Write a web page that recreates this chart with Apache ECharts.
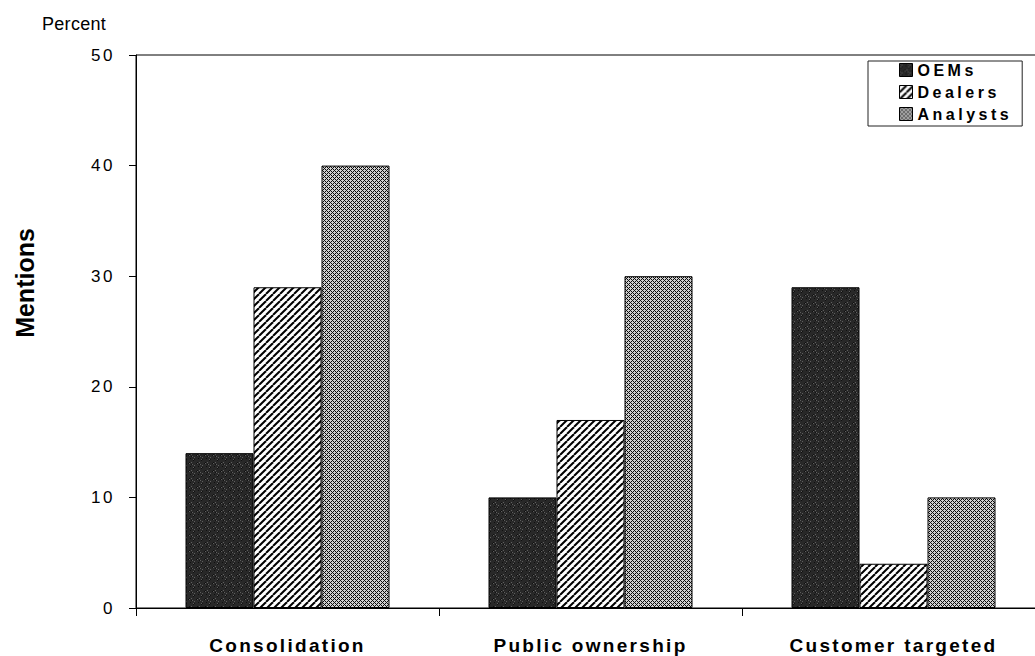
<!DOCTYPE html>
<html>
<head>
<meta charset="utf-8">
<script src="https://cdn.jsdelivr.net/npm/echarts@6/dist/echarts.min.js"></script>
<style>
html,body{margin:0;padding:0;background:#fff;}
#chart{width:1035px;height:656px;}
</style>
</head>
<body>
<div id="chart"></div>
<script>
// ---- data ----
const categories = ['Consolidation', 'Public ownership', 'Customer targeted'];
const seriesNames = ['OEMs', 'Dealers', 'Analysts'];
const oemsValues = [14, 10, 29];
const dealersValues = [29, 17, 4];
const analystsValues = [40, 30, 10];
const yMin = 0, yMax = 50, yInterval = 10;
const yAxisTitle = 'Percent';
const sideTitle = 'Mentions';

// ---- fill patterns ----
function oemPattern() {
  const c = document.createElement('canvas'); c.width = 8; c.height = 8;
  const g = c.getContext('2d');
  g.fillStyle = '#282828'; g.fillRect(0, 0, 8, 8);
  for (let y = 0; y < 8; y++) for (let x = 0; x < 8; x++) {
    const h = (x * 7 + y * 13 + x * y * 3) % 11;
    if (h === 0) { g.fillStyle = '#5e5e5e'; g.fillRect(x, y, 1, 1); }
    else if (h === 5) { g.fillStyle = '#101010'; g.fillRect(x, y, 1, 1); }
  }
  return c;
}
function dealerPattern() {
  const s = 7;
  const c = document.createElement('canvas'); c.width = s; c.height = s;
  const g = c.getContext('2d');
  g.fillStyle = '#fff'; g.fillRect(0, 0, s, s);
  g.strokeStyle = '#000'; g.lineWidth = 2.0;
  for (const k of [-s, 0, s]) {
    g.beginPath(); g.moveTo(k, s); g.lineTo(k + s, 0); g.stroke();
  }
  return c;
}
function analystPattern() {
  const c = document.createElement('canvas'); c.width = 4; c.height = 4;
  const g = c.getContext('2d');
  g.fillStyle = '#d0d0d0'; g.fillRect(0, 0, 4, 4);
  g.fillStyle = '#0c0c0c';
  for (let y = 0; y < 4; y++) for (let x = 0; x < 4; x++) {
    if ((x + y) % 4 === 0 || (x - y + 4) % 4 === 0) g.fillRect(x, y, 1, 1);
  }
  return c;
}
function pat(c) { return { image: c, repeat: 'repeat', imageWidth: c.width, imageHeight: c.height }; }
const fills = [pat(oemPattern()), pat(dealerPattern()), pat(analystPattern())];
const valueSets = [oemsValues, dealersValues, analystsValues];

const chart = echarts.init(document.getElementById('chart'), null, { renderer: 'svg' });
const FONT = '"Liberation Sans", Arial, sans-serif';

chart.setOption({
  animation: false,
  backgroundColor: '#fff',
  grid: { left: 136, top: 55, right: -10, bottom: 48, outerBoundsMode: 'none', containLabel: false,
          show: true, borderColor: '#000', borderWidth: 1, backgroundColor: 'transparent' },
  legend: {
    orient: 'vertical', left: 868, top: 61,
    data: seriesNames,
    icon: 'rect', itemWidth: 13, itemHeight: 13, itemGap: 6,
    padding: [1, 38, 4, 31],
    backgroundColor: '#fff', borderColor: '#222', borderWidth: 1,
    textStyle: { fontFamily: FONT, fontSize: 16, fontWeight: 'bold', color: '#000' },
    itemStyle: { borderColor: '#000', borderWidth: 1 }
  },
  xAxis: {
    type: 'category', data: categories,
    axisLine: { lineStyle: { color: '#000', width: 1 } },
    axisTick: { show: true, length: 8, alignWithLabel: false, lineStyle: { color: '#000' } },
    axisLabel: { fontFamily: FONT, fontSize: 19, fontWeight: 'bold', color: '#000', margin: 28 },
    splitLine: { show: false }
  },
  yAxis: {
    type: 'value', min: yMin, max: yMax, interval: yInterval,
    axisLine: { show: true, lineStyle: { color: '#000', width: 1 } },
    axisTick: { show: true, length: 7, inside: false, lineStyle: { color: '#000' } },
    axisLabel: { fontFamily: FONT, fontSize: 17, color: '#000', margin: 21 },
    splitLine: { show: false }
  },
  series: seriesNames.map((name, i) => ({
    name: name, type: 'bar', data: valueSets[i],
    barWidth: 68, barGap: '0%',
    itemStyle: { color: fills[i], borderColor: '#000', borderWidth: 1 }
  })),
  graphic: [
    { type: 'text', left: 42, top: 15, style: { text: yAxisTitle, font: '18px ' + FONT, fill: '#000' } },
    { type: 'text', x: 25, y: 283, rotation: Math.PI / 2, style: { text: sideTitle, font: 'bold 25px ' + FONT, fill: '#000', align: 'center', verticalAlign: 'middle' } }
  ]
});

// letter spacing as in the scanned original
function spaceText() {
  const svgTexts = document.querySelectorAll('#chart svg text');
  svgTexts.forEach(t => {
    const s = t.textContent;
    let ls = 0;
    if (categories.includes(s)) ls = 2.3;
    else if (seriesNames.includes(s)) ls = 3.5;
    else if (/^\d+$/.test(s)) ls = 2.5;
    else if (s === yAxisTitle) ls = 0.3;
    else if (s === sideTitle) ls = 0;
    t.style.letterSpacing = ls + 'px';
  });
}
spaceText();
chart.on('finished', spaceText);
</script>
</body>
</html>
